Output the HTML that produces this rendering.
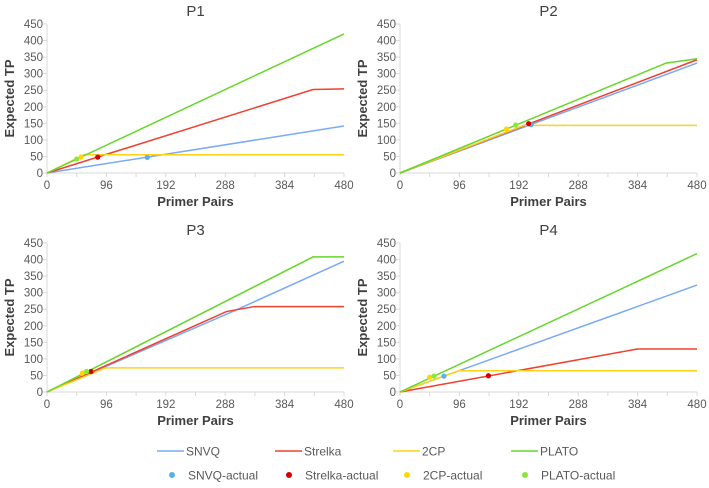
<!DOCTYPE html>
<html><head><meta charset="utf-8"><style>
body{margin:0;background:#fff;width:709px;height:483px;overflow:hidden}
svg{font-family:"Liberation Sans",sans-serif}
</style></head><body>
<svg id="c" width="709" height="483"></svg>
<script>
const seriesNames=["SNVQ","Strelka","2CP","PLATO"];
const lineColors=["#7aaaf5","#f0402e","#ffd21a","#66d62a"];
const dotColors=["#5ab0f0","#d00000","#ffd700","#8ae83a"];
const xTicks=[0,96,192,288,384,480];
const yTicks=[0,50,100,150,200,250,300,350,400,450];
const panelTitles=["P1","P2","P3","P4"];
const p1Lines=[[[0,0],[480,142]],[[0,0],[430,252],[480,254]],[[0,0],[60,55],[480,55]],[[0,0],[480,420]]];
const p2Lines=[[[0,0],[480,332]],[[0,0],[480,342]],[[0,0],[200,144],[480,144]],[[0,0],[430,332],[480,345]]];
const p3Lines=[[[0,0],[300,243],[480,395]],[[0,0],[290,243],[335,258],[480,258]],[[0,0],[95,73],[480,73]],[[0,0],[430,408],[480,408]]];
const p4Lines=[[[0,0],[480,323]],[[0,0],[384,130],[480,130]],[[0,0],[95,64],[480,64]],[[0,0],[480,418]]];
const p1Actual=[[162,47],[82,48],[55,48],[48,42]];
const p2Actual=[[212,146],[208,149],[172,133],[187,145]];
const p3Actual=[[72,61],[71,62],[57,57],[64,62]];
const p4Actual=[[71,48],[143,49],[48,45],[55,48]];
const allLines=[p1Lines,p2Lines,p3Lines,p4Lines];
const allActual=[p1Actual,p2Actual,p3Actual,p4Actual];
const panels=[{x0:47,x1:344,y0:173,y1:24},{x0:400,x1:697,y0:173,y1:24},{x0:47,x1:344,y0:392,y1:243},{x0:400,x1:697,y0:392,y1:243}];
const svg=document.getElementById('c');
const NS='http://www.w3.org/2000/svg';
function mk(t,a,p){const e=document.createElementNS(NS,t);for(const k in a)e.setAttribute(k,a[k]);(p||svg).appendChild(e);return e;}
panels.forEach((P,i)=>{
  const g=mk('g',{});
  
  
  const sx=v=>P.x0+(P.x1-P.x0)*v/480;
  const sy=v=>P.y0+(P.y1-P.y0)*v/450;
  const t=mk('text',{x:(P.x0+P.x1)/2,y:P.y1-8,'text-anchor':'middle','font-size':15,fill:'#404040'},g);t.textContent=panelTitles[i];
  
  
  mk('line',{x1:P.x0,y1:P.y0,x2:P.x1,y2:P.y0,stroke:'#d9d9d9'},g);
  mk('line',{x1:P.x0,y1:P.y0,x2:P.x0,y2:P.y1,stroke:'#d9d9d9'},g);
  for(let v=0;v<=480;v+=48){mk('line',{x1:sx(v),y1:P.y0,x2:sx(v),y2:P.y0+4,stroke:'#d9d9d9'},g);}
  xTicks.forEach(v=>{const e=mk('text',{x:sx(v),y:P.y0+16,'text-anchor':'middle','font-size':11.5,fill:'#595959'},g);e.textContent=v;
    
    });
  yTicks.forEach(v=>{mk('line',{x1:P.x0-4,y1:sy(v),x2:P.x0,y2:sy(v),stroke:'#d9d9d9'},g);
    const e=mk('text',{x:P.x0-4,y:sy(v)+4,'text-anchor':'end','font-size':11.5,fill:'#595959'},g);e.textContent=v;
    
    });
  const xt=mk('text',{x:(P.x0+P.x1)/2,y:P.y0+33,'text-anchor':'middle','font-size':13,'font-weight':'bold',fill:'#404040'},g);xt.textContent='Primer Pairs';
  
  
  const cy=(P.y0+P.y1)/2, cx=P.x0-33;
  const yt=mk('text',{x:cx,y:cy,'text-anchor':'middle','font-size':13,'font-weight':'bold',fill:'#404040',transform:`rotate(-90 ${cx} ${cy})`},g);yt.textContent='Expected TP';
  
  
  allLines[i].forEach((pts,s)=>{
    const l=mk('polyline',{points:pts.map(p=>sx(p[0])+','+sy(p[1])).join(' '),fill:'none',stroke:lineColors[s],'stroke-width':1.5},g);
    
    
  });
  [2,0,1,3].forEach(s=>{const p=allActual[i][s];
    const d=mk('circle',{cx:sx(p[0]),cy:sy(p[1]),r:2.6,fill:dotColors[s]},g);
    
    });
});
const lg=mk('g',{});


const lx=[157,275,393,511], dx=[172,289,407,525];
seriesNames.forEach((n,s)=>{
  const gi=mk('g',{},lg);
  
  
  mk('line',{x1:lx[s],y1:451,x2:lx[s]+27,y2:451,stroke:lineColors[s],'stroke-width':1.5},gi);
  const t=mk('text',{x:lx[s]+29,y:455.5,'font-size':12,fill:'#595959'},gi);t.textContent=n;
  const gj=mk('g',{},lg);
  
  
  mk('circle',{cx:dx[s],cy:475,r:3,fill:dotColors[s]},gj);
  const t2=mk('text',{x:dx[s]+16,y:479.5,'font-size':12,fill:'#595959'},gj);t2.textContent=n+'-actual';
});
</script>
</body></html>
